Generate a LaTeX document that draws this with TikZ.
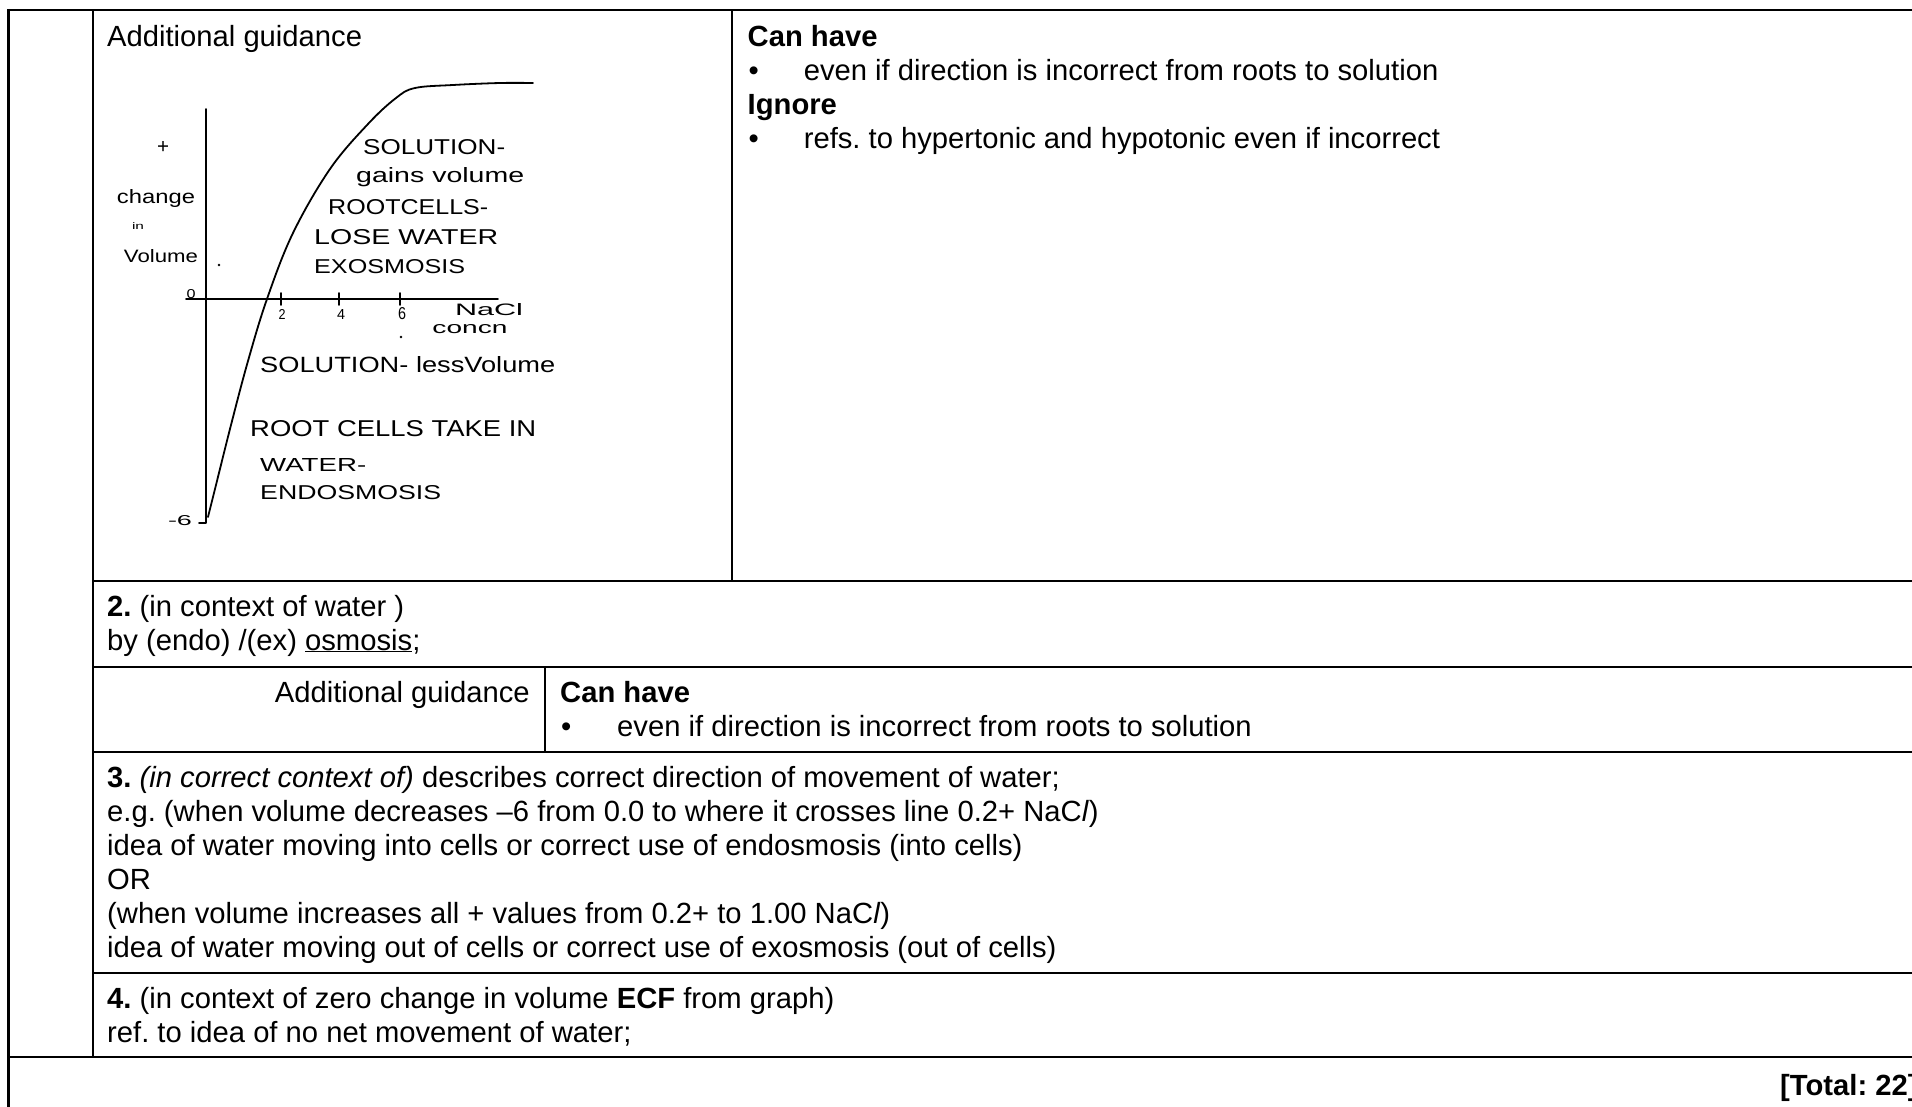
\documentclass[tikz,border=0pt]{standalone}
\usepackage{fontspec}
\usepackage{graphicx}
\setmainfont{Liberation Sans}
\newfontfamily\handfont{Liberation Sans}
\newcommand\hwt[3]{\resizebox{#1pt}{#2pt}{\handfont #3}}
\frenchspacing
\begin{document}
\begin{tikzpicture}[x=1pt,y=-1pt,
  rule/.style={line width=2.3pt},
  ink/.style={line width=1.8pt, line cap=round, line join=round},
  body/.style={anchor=base west, inner sep=0pt, font=\fontsize{29.2}{34}\selectfont},
  bodyr/.style={anchor=base east, inner sep=0pt, font=\fontsize{29.2}{34}\selectfont},
  hand/.style={anchor=west, inner sep=0pt},
  handc/.style={anchor=center, inner sep=0pt}]
\useasboundingbox (0,0) rectangle (1912,1106);

% table rules
\draw[rule] (8.5,10) -- (1915,10);
\draw[rule] (8.5,8.85) -- (8.5,1110);
\draw[rule] (92.7,10) -- (92.7,1057);
\draw[rule] (732,10) -- (732,581);
\draw[rule] (92.7,581) -- (1915,581);
\draw[rule] (92.7,667) -- (1915,667);
\draw[rule] (545,667) -- (545,752);
\draw[rule] (92.7,752) -- (1915,752);
\draw[rule] (92.7,973) -- (1915,973);
\draw[rule] (8.5,1057) -- (1915,1057);

% row 1
\node[body] (ag1) at (107,46) {Additional guidance};
\node[body] (ch1) at (747.5,46) {\textbf{Can have}};
\node[body] (b1) at (748.5,80) {•};
\node[body] (t1) at (803.6,80) {even if direction is incorrect from roots to solution};
\node[body] (ig) at (747.5,114) {\textbf{Ignore}};
\node[body] (b2) at (748.5,148) {•};
\node[body] (t2) at (803.6,148) {refs. to hypertonic and hypotonic even if incorrect};

% hand-drawn graph
\draw[ink] (206,109) -- (206,523) -- (199,523);
\draw[ink] (186,299) -- (498,299);
\draw[ink] (281,293) -- (281,305);
\draw[ink] (339,293) -- (339,305);
\draw[ink] (400,293) -- (400,305);
\draw[ink] plot[smooth, tension=0.6] coordinates {(208,517) (215,489) (231,425) (248,361) (267,299) (293,233) (330,169) (368,124) (396,98) (415,88) (453,85) (500,83) (533,83)};
\fill (219,265) circle (1.3);
\fill (401,337) circle (1.3);

\node[handc] (gplus) at (163,147) {\hwt{12}{12}{+}};
\node[handc] (gchange) at (156,199) {\hwt{78}{14}{change}};
\node[handc] (gin) at (138,226) {\hwt{12}{7}{in}};
\node[handc] (gvol) at (161,256) {\hwt{74}{13}{Volume}};
\node[handc] (gzero) at (191,294) {\hwt{9}{9}{0}};
\node[handc] (gtwo) at (282,314) {\hwt{7}{10}{2}};
\node[handc] (gfour) at (341,314) {\hwt{8}{10}{4}};
\node[handc] (gsix) at (402,314) {\hwt{8}{12}{6}};
\node[handc] (gnacl) at (489,310) {\hwt{68}{12}{NaCl}};
\node[handc] (gconc) at (470,329) {\hwt{75}{9}{concn}};
\node[handc] (gneg) at (180,521) {\hwt{24}{10}{-6}};

\node[hand] (h1) at (363,147) {\hwt{142}{15}{SOLUTION-}};
\node[hand] (h2) at (356,177) {\hwt{168}{15}{gains volume}};
\node[hand] (h3) at (328,207) {\hwt{160}{15}{ROOTCELLS-}};
\node[hand] (h4) at (314,237) {\hwt{184}{15}{LOSE WATER}};
\node[hand] (h5) at (314,267) {\hwt{151}{14}{EXOSMOSIS}};
\node[hand] (h6) at (260,365) {\hwt{295}{16}{SOLUTION- lessVolume}};
\node[hand] (h7) at (250,429) {\hwt{286}{16}{ROOT CELLS TAKE IN}};
\node[hand] (h8) at (260,465) {\hwt{106}{13}{WATER-}};
\node[hand] (h9) at (260,493) {\hwt{181}{14}{ENDOSMOSIS}};

% row 2
\node[body] (r2a) at (107,616) {\textbf{2.} (in context of water )};
\node[body] (r2b) at (107,650) {by (endo) /(ex) \underline{osmosis};};

% row 3
\node[bodyr] (ag2) at (530,702) {Additional guidance};
\node[body] (ch2) at (560,702) {\textbf{Can have}};
\node[body] (b3) at (561,736) {•};
\node[body] (t3) at (617,736) {even if direction is incorrect from roots to solution};

% row 4
\node[body] (r4a) at (107,787) {\textbf{3.} \textit{(in correct context of)} describes correct direction of movement of water;};
\node[body] (r4b) at (107,821) {e.g. (when volume decreases –6 from 0.0 to where it crosses line 0.2+ NaC\textit{l})};
\node[body] (r4c) at (107,855) {idea of water moving into cells or correct use of endosmosis (into cells)};
\node[body] (r4d) at (107,889) {OR};
\node[body] (r4e) at (107,923) {(when volume increases all + values from 0.2+ to 1.00 NaC\textit{l})};
\node[body] (r4f) at (107,957) {idea of water moving out of cells or correct use of exosmosis (out of cells)};

% row 5
\node[body] (r5a) at (107,1008) {\textbf{4.} (in context of zero change in volume \textbf{ECF} from graph)};
\node[body] (r5b) at (107,1042) {ref. to idea of no net movement of water;};

% total
\node[body] (tot) at (1780,1095) {\textbf{[Total: 22]}};
\end{tikzpicture}
\end{document}
